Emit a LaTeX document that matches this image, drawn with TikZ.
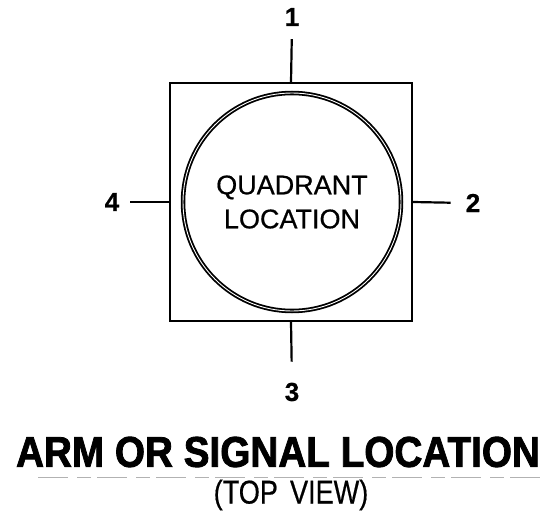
\documentclass[tikz,border=0pt]{standalone}
\usepackage{fontspec}
\setmainfont{Liberation Sans}[FakeBold=0.6]
\newfontfamily\heavyfont{Liberation Sans Bold}[FakeBold=2]
\usepackage{graphicx}
\usepackage{tikz}
\usetikzlibrary{positioning}
\tikzset{
    tick/.style={line width=2.2pt},
    num/.style={font=\fontsize{26}{26}\selectfont\bfseries, inner sep=0pt},
    frame/.style={draw, line width=1.9pt, rectangle, minimum width=242pt, minimum height=238pt},
    ring/.style={draw, circle, line width=1.8pt, double, double distance=0.9pt, minimum size=218pt, align=center, font=\fontsize{27}{34}\selectfont}
}

\begin{document}
\begin{tikzpicture}[x=1pt, y=-1pt]
    \useasboundingbox (0,0) rectangle (541,519);
    \node (box) [frame] at (291,202) {};
    \node (quad) [ring] at (292,202) {QUADRANT\\LOCATION};
    \node (n1) [num] at (292,17) {1};
    \node (n2) [num] at (473,203) {2};
    \node (n3) [num] at (292,392) {3};
    \node (n4) [num] at (112,202) {4};

    \draw [tick, shorten >=13pt] (box.north) -- (n1.south);
    \draw [tick, shorten >=15pt] (box.east) -- (n2.west);
    \draw [tick, shorten >=21pt] (box.south) -- (n3.north);
    \draw [tick, shorten >=11pt] (box.west) -- (n4.east);

    \node (title) [inner sep=0pt, font=\fontsize{43}{43}\heavyfont] at (278,452) {\scalebox{0.9}[1]{ARM OR SIGNAL LOCATION}};
    \coordinate (ulA) at (38,477);
    \coordinate (ulB) at (541,477);
    \draw [gray!60, line width=0.8pt, dash pattern=on 30pt off 9pt on 14pt off 6pt] (ulA) -- (ulB);
    \node (view) [inner sep=0pt, font=\fontsize{33}{33}\selectfont] at (291,495) {\scalebox{0.82}[1]{(TOP\hspace{0.45em}VIEW)}};
\end{tikzpicture}
\end{document}
